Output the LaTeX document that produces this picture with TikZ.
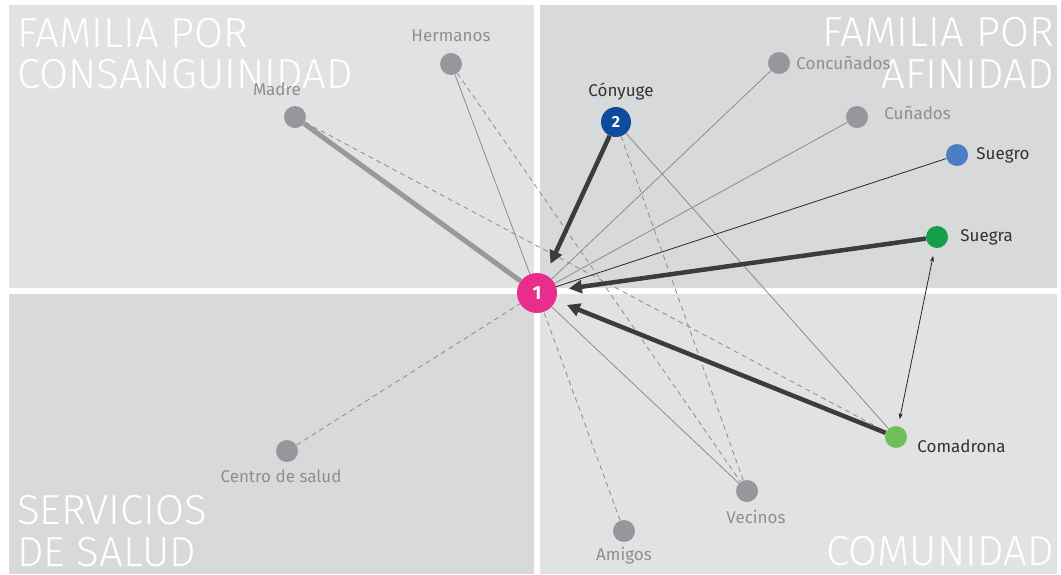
\documentclass[tikz,border=0pt]{standalone}
\usepackage{fontspec}
\setmainfont{Fira Sans}
\newfontfamily\lightfont{Fira Sans Light}
\usetikzlibrary{arrows.meta, positioning}
\definecolor{quadlight}{RGB}{225, 226, 228}
\definecolor{quaddark}{RGB}{216, 217, 219}
\definecolor{nodegray}{RGB}{150, 151, 155}
\definecolor{labelgray}{RGB}{142, 143, 146}
\definecolor{labeldark}{RGB}{51, 51, 51}
\definecolor{linegray}{RGB}{140, 140, 140}
\definecolor{thickgray}{RGB}{153, 153, 155}
\definecolor{darkline}{RGB}{60, 60, 60}
\definecolor{egopink}{RGB}{234, 45, 140}
\definecolor{conyugeblue}{RGB}{14, 75, 155}
\definecolor{suegroblue}{RGB}{74, 128, 195}
\definecolor{suegragreen}{RGB}{20, 160, 74}
\definecolor{comadronagreen}{RGB}{114, 191, 90}
\pgfdeclarelayer{bg}
\pgfdeclarelayer{edges}
\pgfsetlayers{bg,edges,main}

\begin{document}
\begin{tikzpicture}[x=1pt, y=-1pt,
  person/.style={circle, fill=nodegray, minimum size=22pt, inner sep=0pt},
  lbl/.style={font=\fontsize{17}{17}\selectfont, text=labelgray, inner sep=0pt},
  dlbl/.style={lbl, text=labeldark},
  quadtitle/.style={font=\lightfont\fontsize{42}{42}\selectfont, text=white, inner sep=0pt},
  tie/.style={draw=linegray, line width=0.8pt},
  weak/.style={draw=linegray, line width=0.8pt, dash pattern=on 5pt off 4pt},
  strong/.style={draw=darkline, line width=4.5pt, -{Triangle[length=13pt,width=13pt]}, shorten >=12pt},
  mutual/.style={draw=black!85, line width=0.8pt, {Stealth[length=6pt,width=4pt]}-{Stealth[length=6pt,width=4pt]}, shorten <=8pt, shorten >=7pt}
]
  % quadrants
  \begin{pgfonlayer}{bg}
    \fill[white] (0,0) rectangle (1061,574);
    \fill[quadlight] (9,5) rectangle (534,288);
    \fill[quaddark] (540,5) rectangle (1057,288);
    \fill[quaddark] (9,294) rectangle (534,574);
    \fill[quadlight] (540,294) rectangle (1057,574);
    \node[quadtitle, anchor=base west] (t-fam1) at (17,47) {FAMILIA POR};
    \node[quadtitle, anchor=base west] (t-consang) at (17,88) {CONSANGUINIDAD};
    \node[quadtitle, anchor=base east] (t-fam2) at (1054,46) {FAMILIA POR};
    \node[quadtitle, anchor=base east] (t-afin) at (1054,88) {AFINIDAD};
    \node[quadtitle, anchor=base west] (t-serv) at (17,524) {SERVICIOS};
    \node[quadtitle, anchor=base west] (t-salud) at (17,566) {DE SALUD};
    \node[quadtitle, anchor=base east] (t-comun) at (1054,565) {COMUNIDAD};
  \end{pgfonlayer}

  % people
  \node[circle, fill=egopink, minimum size=40pt, inner sep=0pt, text=white, font=\bfseries\fontsize{19}{19}\selectfont] (ego) at (537,293) {1};
  \node[circle, fill=conyugeblue, minimum size=30pt, inner sep=0pt, text=white, font=\bfseries\fontsize{16}{16}\selectfont] (conyuge) at (616,122) {2};
  \node[person] (hermanos) at (451,64) {};
  \node[person] (madre) at (295,117) {};
  \node[person] (concunados) at (779,63) {};
  \node[person] (cunados) at (857,117) {};
  \node[person, fill=suegroblue] (suegro) at (957,155) {};
  \node[person, fill=suegragreen] (suegra) at (937,237) {};
  \node[person, fill=comadronagreen] (comadrona) at (896,437) {};
  \node[person] (vecinos) at (747,491) {};
  \node[person] (amigos) at (624,531) {};
  \node[person] (centro) at (287,451) {};

  % labels
  \node[lbl, above=11pt of hermanos] (hermanos-l) {Hermanos};
  \node[lbl, above=10pt of madre, xshift=-18pt] (madre-l) {Madre};
  \node[dlbl, above=6pt of conyuge, xshift=5pt] (conyuge-l) {Cónyuge};
  \node[lbl, right=6pt of concunados] (concunados-l) {Concuñados};
  \node[lbl, right=16pt of cunados, yshift=4pt] (cunados-l) {Cuñados};
  \node[dlbl, right=8pt of suegro] (suegro-l) {Suegro};
  \node[dlbl, right=12pt of suegra] (suegra-l) {Suegra};
  \node[dlbl, right=10pt of comadrona, yshift=-9pt] (comadrona-l) {Comadrona};
  \node[lbl, below=8pt of vecinos, xshift=9pt] (vecinos-l) {Vecinos};
  \node[lbl, below=5pt of amigos] (amigos-l) {Amigos};
  \node[lbl, below=7pt of centro, xshift=-6pt] (centro-l) {Centro de salud};

  % ties
  \begin{pgfonlayer}{edges}
    \draw[draw=thickgray, line width=5pt] (madre) -- (ego);
    \draw[weak] (madre) -- (comadrona);
    \draw[tie] (hermanos) -- (ego);
    \draw[weak] (hermanos) -- (vecinos);
    \draw[weak] (conyuge) -- (vecinos);
    \draw[tie] (conyuge) -- (comadrona);
    \draw[tie] (concunados) -- (ego);
    \draw[tie] (cunados) -- (ego);
    \draw[tie, draw=black!85] (suegro) -- (ego);
    \draw[tie] (vecinos) -- (ego);
    \draw[weak] (amigos) -- (ego);
    \draw[weak] (centro) -- (ego);
    \draw[strong] (conyuge) -- (ego);
    \draw[strong] (suegra) -- (ego);
    \draw[strong] (comadrona) -- (ego);
    \draw[mutual] (suegra) -- (comadrona);
  \end{pgfonlayer}
\end{tikzpicture}
\end{document}
